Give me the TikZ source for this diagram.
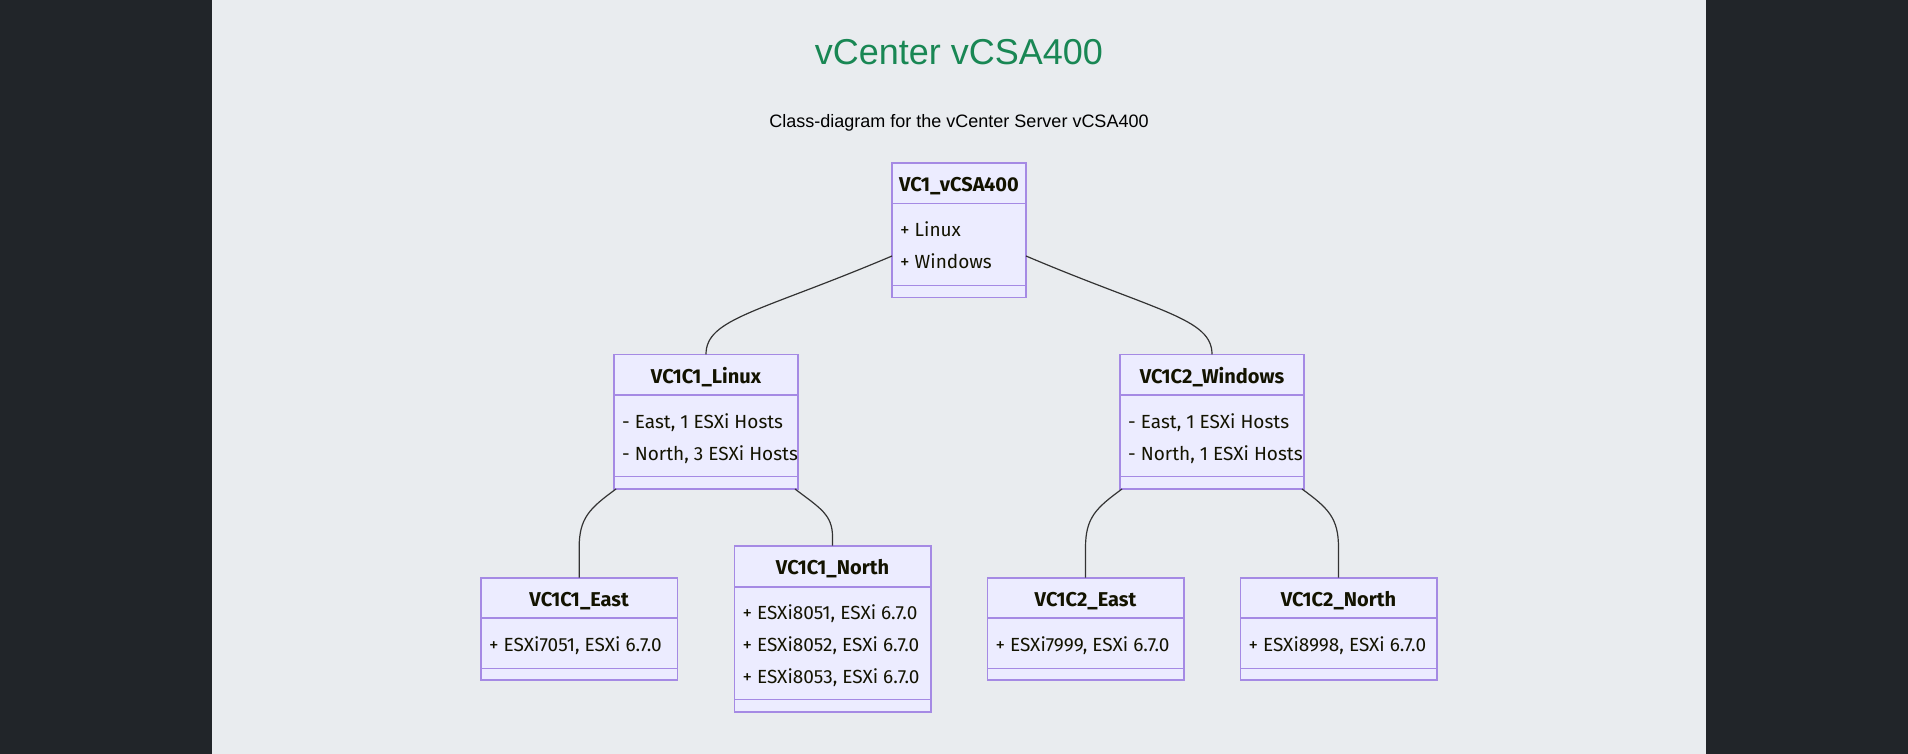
\documentclass[tikz,border=0pt]{standalone}
\usepackage{fontspec}
\setmainfont{Liberation Sans}
\newfontfamily\boxfont{Fira Sans}
\usepackage{tikz}
\usetikzlibrary{positioning,calc}

\definecolor{pagebg}{HTML}{E9ECEF}
\definecolor{sidebg}{HTML}{212529}
\definecolor{boxfill}{HTML}{ECECFF}
\definecolor{boxline}{HTML}{A58AE4}
\definecolor{titlegreen}{HTML}{198754}
\definecolor{linkgray}{HTML}{333333}
\definecolor{boxtext}{HTML}{131300}

\tikzset{
    classbox/.style={draw=boxline, fill=boxfill, line width=1.6pt, inner sep=0pt, outer sep=0pt},
    classname/.style={font=\boxfont\bfseries\fontsize{20}{22}\selectfont, text=boxtext, anchor=base, inner sep=0pt},
    member/.style={font=\boxfont\fontsize{19}{22}\selectfont, text=boxtext, anchor=base west, inner sep=0pt},
    divider/.style={draw=boxline, line width=1.6pt},
    link/.style={draw=linkgray, line width=1.2pt},
    titletext/.style={font=\fontsize{36}{40}\selectfont, text=titlegreen, anchor=base, inner sep=0pt},
    subtitletext/.style={font=\fontsize{18}{20}\selectfont, text=black, anchor=base, inner sep=0pt}
}

\begin{document}
\begin{tikzpicture}[x=1pt, y=-1pt]
    % Page
    \fill [sidebg] (0,0) rectangle (1908,754);
    \fill [pagebg] (212,0) rectangle (1706,754);
    \useasboundingbox (0,0) rectangle (1908,754);
    % Titles
    \node [titletext] (title) at (959,64.5) {vCenter vCSA400};
    \node [subtitletext] (subtitle) at (959,128) {Class-diagram for the vCenter Server vCSA400};

    % vCenter
    \node [classbox, minimum width=134pt, minimum height=134.5pt] (vc) at (959,230.25) {};
    \node [classname] (vcname) at ($(vc.north)+(0,29)$) {VC1\_vCSA400};
    \draw [divider] ($(vc.north west)+(0,40.5)$) -- ($(vc.north east)+(0,40.5)$);
    \draw [divider] ($(vc.south west)+(0,-12)$) -- ($(vc.south east)+(0,-12)$);
    \node [member] (vclinux) at ($(vc.north west)+(8,73.8)$) {+ Linux};
    \node [member] (vcwin) at ($(vc.north west)+(8,105.5)$) {+ Windows};

    % Linux cluster
    \node [classbox, minimum width=184pt, minimum height=134.7pt] (lin) at (706,421.65) {};
    \node [classname] (linname) at ($(lin.north)+(0,29)$) {VC1C1\_Linux};
    \draw [divider] ($(lin.north west)+(0,40.7)$) -- ($(lin.north east)+(0,40.7)$);
    \draw [divider] ($(lin.south west)+(0,-12.5)$) -- ($(lin.south east)+(0,-12.5)$);
    \node [member] (lineast) at ($(lin.north west)+(8,74)$) {- East, 1 ESXi Hosts};
    \node [member] (linnorth) at ($(lin.north west)+(8,105.7)$) {- North, 3 ESXi Hosts};

    % Windows cluster
    \node [classbox, minimum width=184pt, minimum height=134.7pt] (win) at (1212,421.65) {};
    \node [classname] (winname) at ($(win.north)+(0,29)$) {VC1C2\_Windows};
    \draw [divider] ($(win.north west)+(0,40.7)$) -- ($(win.north east)+(0,40.7)$);
    \draw [divider] ($(win.south west)+(0,-12.5)$) -- ($(win.south east)+(0,-12.5)$);
    \node [member] (wineast) at ($(win.north west)+(8,74)$) {- East, 1 ESXi Hosts};
    \node [member] (winnorth) at ($(win.north west)+(8,105.7)$) {- North, 1 ESXi Hosts};

    % Linux East
    \node [classbox, minimum width=196.4pt, minimum height=102.3pt] (le) at (579.15,628.85) {};
    \node [classname] (lename) at ($(le.north)+(0,29)$) {VC1C1\_East};
    \draw [divider] ($(le.north west)+(0,40)$) -- ($(le.north east)+(0,40)$);
    \draw [divider] ($(le.south west)+(0,-11.7)$) -- ($(le.south east)+(0,-11.7)$);
    \node [member] (lehost) at ($(le.north west)+(8,73.3)$) {+ ESXi7051, ESXi 6.7.0};

    % Linux North
    \node [classbox, minimum width=196.4pt, minimum height=166pt] (ln) at (832.5,628.7) {};
    \node [classname] (lnname) at ($(ln.north)+(0,29)$) {VC1C1\_North};
    \draw [divider] ($(ln.north west)+(0,41)$) -- ($(ln.north east)+(0,41)$);
    \draw [divider] ($(ln.south west)+(0,-12.4)$) -- ($(ln.south east)+(0,-12.4)$);
    \node [member] (lnhosta) at ($(ln.north west)+(8,73.7)$) {+ ESXi8051, ESXi 6.7.0};
    \node [member] (lnhostb) at ($(ln.north west)+(8,105.5)$) {+ ESXi8052, ESXi 6.7.0};
    \node [member] (lnhostc) at ($(ln.north west)+(8,137.3)$) {+ ESXi8053, ESXi 6.7.0};

    % Windows East
    \node [classbox, minimum width=196.4pt, minimum height=102.3pt] (we) at (1085.5,628.85) {};
    \node [classname] (wename) at ($(we.north)+(0,29)$) {VC1C2\_East};
    \draw [divider] ($(we.north west)+(0,40)$) -- ($(we.north east)+(0,40)$);
    \draw [divider] ($(we.south west)+(0,-11.7)$) -- ($(we.south east)+(0,-11.7)$);
    \node [member] (wehost) at ($(we.north west)+(8,73.3)$) {+ ESXi7999, ESXi 6.7.0};

    % Windows North
    \node [classbox, minimum width=196.4pt, minimum height=102.3pt] (wn) at (1338.5,628.85) {};
    \node [classname] (wnname) at ($(wn.north)+(0,29)$) {VC1C2\_North};
    \draw [divider] ($(wn.north west)+(0,40)$) -- ($(wn.north east)+(0,40)$);
    \draw [divider] ($(wn.south west)+(0,-11.7)$) -- ($(wn.south east)+(0,-11.7)$);
    \node [member] (wnhost) at ($(wn.north west)+(8,73.3)$) {+ ESXi8998, ESXi 6.7.0};

    % Links
    \draw [link] ($(vc.west)+(0,25.75)$) .. controls +(-132,56) and +(0,-36) .. (lin.north);
    \draw [link] ($(vc.east)+(0,25.75)$) .. controls +(132,56) and +(0,-36) .. (win.north);
    \draw [link] ($(lin.south west)+(2,0)$) .. controls +(-26,19) and +(0,-30) .. ($(le.north)+(0,-30)$) -- (le.north);
    \draw [link] ($(lin.south east)+(-3,0)$) .. controls +(25,19) and +(0,-22) .. ($(ln.north)+(0,-9)$) -- (ln.north);
    \draw [link] ($(win.south west)+(2,0)$) .. controls +(-26,19) and +(0,-30) .. ($(we.north)+(0,-30)$) -- (we.north);
    \draw [link] ($(win.south east)+(-2,0)$) .. controls +(26,19) and +(0,-30) .. ($(wn.north)+(0,-30)$) -- (wn.north);
\end{tikzpicture}
\end{document}
